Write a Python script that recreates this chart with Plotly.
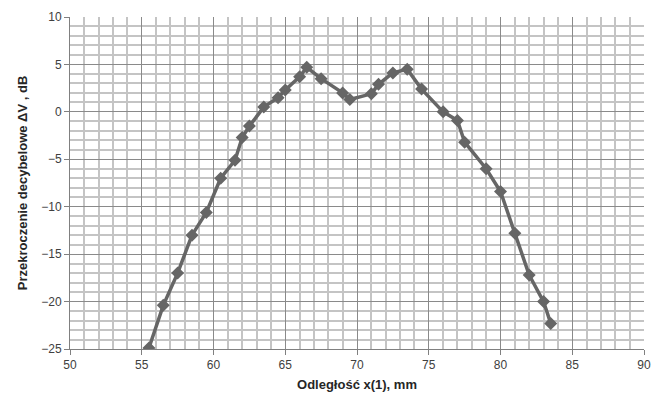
import plotly.graph_objects as go

x_mm = [55.5, 56.5, 57.5, 58.5, 59.5, 60.5, 61.5, 62.0, 62.5, 63.5, 64.5, 65.0, 66.0, 66.5,
        67.5, 69.0, 69.5, 71.0, 71.5, 72.5, 73.5, 74.5, 76.0, 77.0, 77.5, 79.0, 80.0, 81.0,
        82.0, 83.0, 83.5]
dv_db = [-24.9, -20.4, -17.0, -13.0, -10.6, -7.0, -5.1, -2.7, -1.5, 0.5, 1.5, 2.3, 3.7, 4.7,
         3.5, 2.0, 1.3, 1.9, 2.9, 4.1, 4.5, 2.4, 0.0, -0.9, -3.2, -6.0, -8.4, -12.8,
         -17.2, -20.0, -22.3]

x_title = "Odległość x(1), mm"
y_title = "Przekroczenie decybelowe ΔV , dB"

fig = go.Figure()
fig.add_trace(go.Scatter(
    x=x_mm, y=dv_db, mode="lines+markers",
    line=dict(color="#666666", width=3.5),
    marker=dict(symbol="diamond", size=10, color="#666666"),
    showlegend=False,
))

font_family = "Liberation Sans, Arial, sans-serif"
fig.update_layout(
    width=653, height=406,
    margin=dict(l=70, r=9, t=17, b=57),
    paper_bgcolor="white", plot_bgcolor="white",
    font=dict(family=font_family, size=12, color="#404040"),
)
fig.update_xaxes(
    range=[50, 90], dtick=5, tick0=50,
    showgrid=True, gridcolor="#8a8a8a", gridwidth=1,
    minor=dict(dtick=1, showgrid=True, gridcolor="#c4c4c4", gridwidth=1.5),
    showline=True, linecolor="#808080", linewidth=1,
    ticks="outside", ticklen=5, tickcolor="#808080",
    zeroline=False, ticklabeloverflow="allow", automargin=False,
    title=dict(text="<b>" + x_title + "</b>", font=dict(size=13, color="#262626"), standoff=8),
    tickfont=dict(size=12, color="#404040"),
)
fig.update_yaxes(
    range=[-25, 10], dtick=5, tick0=-25,
    showgrid=True, gridcolor="#8a8a8a", gridwidth=1,
    minor=dict(dtick=1, showgrid=True, gridcolor="#c4c4c4", gridwidth=1.5),
    showline=True, linecolor="#808080", linewidth=1,
    ticks="outside", ticklen=5, tickcolor="#808080",
    zeroline=False, automargin=False,
    title=dict(text="<b>" + y_title + "</b>", font=dict(size=13, color="#262626"), standoff=10),
    tickfont=dict(size=12, color="#404040"),
)
fig.write_html("out.html")
